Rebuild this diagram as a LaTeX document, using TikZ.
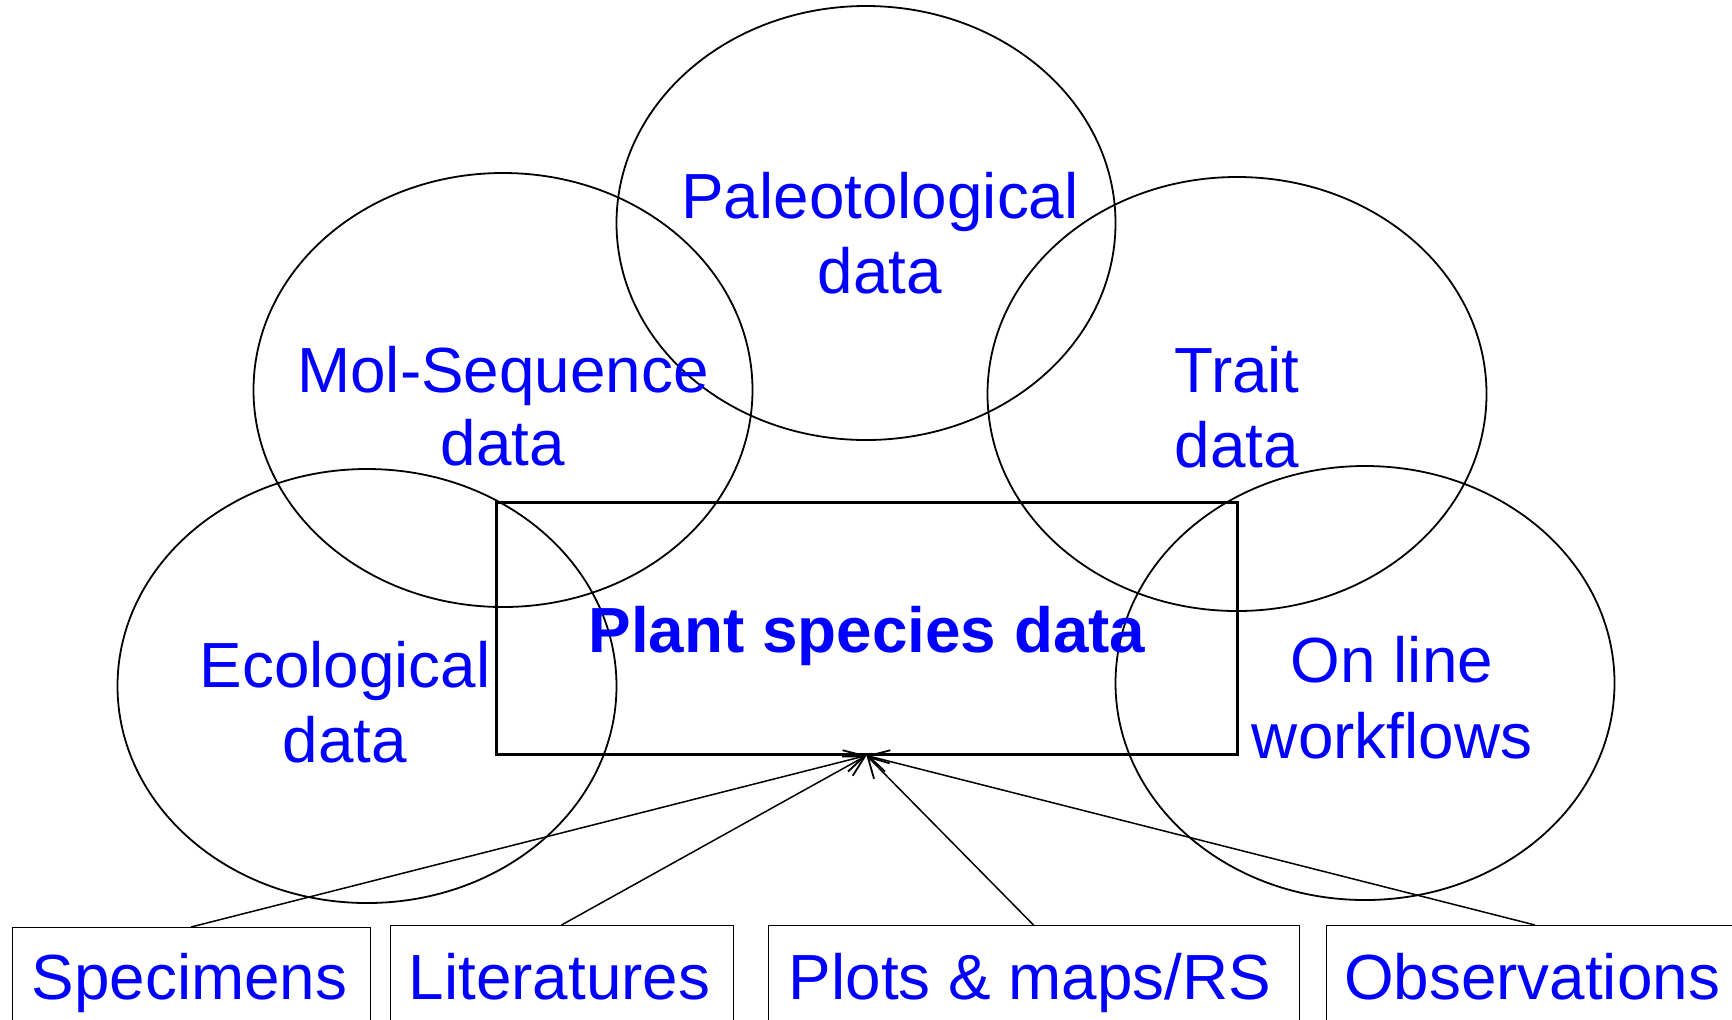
\documentclass[tikz,border=0pt]{standalone}
\usepackage{fontspec}
\setmainfont{Liberation Sans}
\usetikzlibrary{shapes.geometric,arrows.meta}
\definecolor{txtblue}{RGB}{0,0,255}
\tikzset{
  oval/.style={draw, ellipse, line width=0.9pt, minimum width=249.5pt, minimum height=217pt, inner sep=0pt},
  lbl/.style={anchor=base, inner sep=0pt, text=txtblue, font=\fontsize{31.9}{37.5}\selectfont},
  srcbox/.style={draw, line width=0.5pt, anchor=north, minimum height=80pt, inner sep=0pt},
  feed/.style={line width=0.75pt, -{Straight Barb[length=10pt,width=11pt,line width=0.9pt]}}
}
\begin{document}
\begin{tikzpicture}[x=0.5pt,y=-0.5pt]
\useasboundingbox (0,0) rectangle (1732,1019);
\clip (0,0) rectangle (1732,1019);
% ellipses
\node[oval] (paleo) at (866,223) {};
\node[oval] (mol) at (503,390) {};
\node[oval] (trait) at (1237,394) {};
\node[oval] (eco) at (367,686) {};
\node[oval] (online) at (1365,683) {};
% central box
\node[draw, line width=1.5pt, minimum width=370.5pt, minimum height=126pt, inner sep=0pt] (main) at (866.5,628) {};
% labels
\node[lbl] (paleo1) at (880,218) {Paleotological};
\node[lbl] (paleo2) at (880,293) {data};
\node[lbl] (mol1) at (503,392) {Mol-Sequence};
\node[lbl] (mol2) at (503,465) {data};
\node[lbl] (trait1) at (1237,392) {Trait};
\node[lbl] (trait2) at (1237,467) {data};
\node[lbl] (eco1) at (345,687) {Ecological};
\node[lbl] (eco2) at (345,762) {data};
\node[lbl] (online1) at (1392,682) {On line};
\node[lbl] (online2) at (1392,758) {workflows};
\node[lbl, font=\fontsize{31.9}{37.5}\selectfont\bfseries] (maintxt) at (867,652) {Plant species data};
% source boxes
\node[srcbox, minimum width=179pt] (spec) at (191,927) {};
\node[srcbox, minimum width=171.5pt] (lit) at (561.5,925) {};
\node[srcbox, minimum width=265.5pt] (plots) at (1033.5,925) {};
\node[srcbox, minimum width=209pt] (obs) at (1535,925) {};
\node[lbl] (spect) at (189.5,999) {Specimens};
\node[lbl] (litt) at (559.5,999) {Literatures};
\node[lbl] (plotst) at (1030,999) {Plots \& maps/RS};
\node[lbl] (obst) at (1532,999) {Observations};
% connectors
\draw[feed] (spec.north) -- (main.south);
\draw[feed] (lit.north) -- (main.south);
\draw[feed] (plots.north) -- (main.south);
\draw[feed] (obs.north) -- (main.south);
\end{tikzpicture}
\end{document}
